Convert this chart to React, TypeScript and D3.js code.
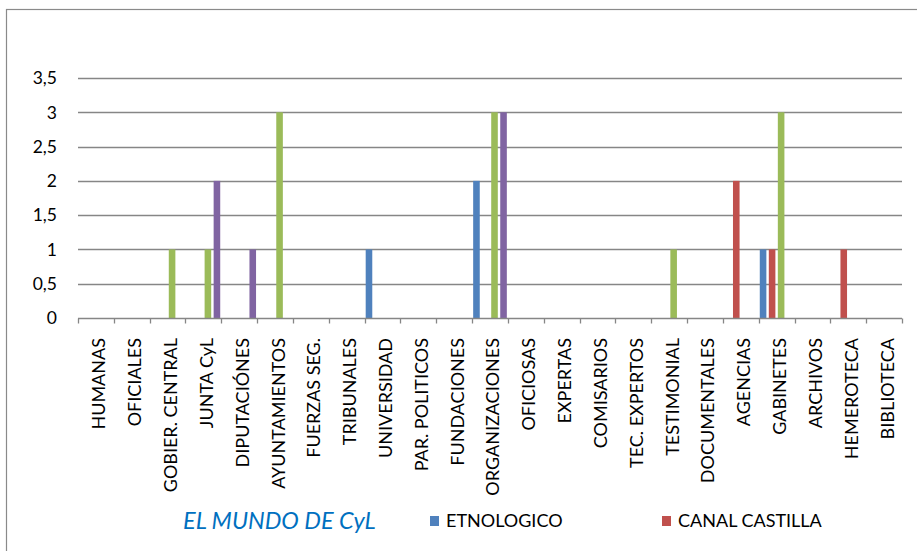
import { useEffect, useRef } from "react";
import * as d3 from "d3";

const categories = [
  "HUMANAS",
  "OFICIALES",
  "GOBIER. CENTRAL",
  "JUNTA CyL",
  "DIPUTACIÓNES",
  "AYUNTAMIENTOS",
  "FUERZAS SEG.",
  "TRIBUNALES",
  "UNIVERSIDAD",
  "PAR. POLITICOS",
  "FUNDACIONES",
  "ORGANIZACIONES",
  "OFICIOSAS",
  "EXPERTAS",
  "COMISARIOS",
  "TEC. EXPERTOS",
  "TESTIMONIAL",
  "DOCUMENTALES",
  "AGENCIAS",
  "GABINETES",
  "ARCHIVOS",
  "HEMEROTECA",
  "BIBLIOTECA",
];

const etnologico = [0, 0, 0, 0, 0, 0, 0, 0, 1, 0, 0, 2, 0, 0, 0, 0, 0, 0, 0, 1, 0, 0, 0];
const canalCastilla = [0, 0, 0, 0, 0, 0, 0, 0, 0, 0, 0, 0, 0, 0, 0, 0, 0, 0, 2, 1, 0, 1, 0];
const serie3 = [0, 0, 1, 1, 0, 3, 0, 0, 0, 0, 0, 3, 0, 0, 0, 0, 1, 0, 0, 3, 0, 0, 0];
const serie4 = [0, 0, 0, 2, 1, 0, 0, 0, 0, 0, 0, 3, 0, 0, 0, 0, 0, 0, 0, 0, 0, 0, 0];

const yTicks = [0, 0.5, 1, 1.5, 2, 2.5, 3, 3.5];

const seriesNames = ["ETNOLOGICO", "CANAL CASTILLA", "SERIE 3", "SERIE 4"];
const seriesValues = [etnologico, canalCastilla, serie3, serie4];
const seriesColors = ["#4F81BD", "#C0504D", "#9BBB59", "#8064A2"];

const W = 917;
const H = 551;
const FONT = "Lato, 'Open Sans', sans-serif";

const App = () => {
  const svgRef = useRef<SVGSVGElement | null>(null);

  useEffect(() => {
    const svg = d3.select(svgRef.current);
    svg.selectAll("*").remove();

    const margin = { left: 78, right: 15, top: 78, bottom: 233 };

    // chart frame (extends past the right and bottom edges)
    svg
      .append("rect")
      .attr("x", 6.5)
      .attr("y", 9.5)
      .attr("width", W + 20)
      .attr("height", H + 20)
      .attr("fill", "white")
      .attr("stroke", "#8a8a8a")
      .attr("stroke-width", 1.2);

    const x = d3
      .scaleBand()
      .domain(categories)
      .range([margin.left, W - margin.right])
      .padding(0);

    const xs = d3
      .scaleBand()
      .domain(seriesNames)
      .range([0, x.bandwidth()])
      .paddingInner(0.27)
      .paddingOuter(0.12);

    const y = d3
      .scaleLinear()
      .domain([0, 3.5])
      .range([H - margin.bottom, margin.top]);

    // gridlines
    svg
      .append("g")
      .selectAll("line")
      .data(yTicks.slice(1))
      .join("line")
      .attr("x1", margin.left)
      .attr("x2", W - margin.right)
      .attr("y1", (d) => Math.round(y(d)) + 0.5)
      .attr("y2", (d) => Math.round(y(d)) + 0.5)
      .attr("stroke", "#868686")
      .attr("stroke-width", 1.3);

    // y labels
    svg
      .append("g")
      .selectAll("text")
      .data(yTicks)
      .join("text")
      .attr("x", 57)
      .attr("y", (d) => y(d))
      .attr("dy", "0.36em")
      .attr("text-anchor", "end")
      .attr("font-family", FONT)
      .attr("font-size", 17.5)
      .attr("fill", "#000")
      .text((d) => String(d).replace(".", ","));

    // bars
    seriesValues.forEach((vals, si) => {
      svg
        .append("g")
        .selectAll("rect")
        .data(vals.map((v, i) => ({ c: categories[i], v })).filter((d) => d.v > 0))
        .join("rect")
        .attr("x", (d) => (x(d.c) ?? 0) + (xs(seriesNames[si]) ?? 0))
        .attr("width", xs.bandwidth())
        .attr("y", (d) => y(d.v))
        .attr("height", (d) => y(0) - y(d.v))
        .attr("fill", seriesColors[si]);
    });

    // x axis
    const y0 = Math.round(y(0)) + 0.5;
    svg
      .append("line")
      .attr("x1", margin.left)
      .attr("x2", W - margin.right)
      .attr("y1", y0)
      .attr("y2", y0)
      .attr("stroke", "#868686")
      .attr("stroke-width", 1.3);

    const bounds = categories.map((c) => x(c) ?? 0).concat([W - margin.right]);
    svg
      .append("g")
      .selectAll("line")
      .data(bounds)
      .join("line")
      .attr("x1", (d) => Math.round(d) + 0.5)
      .attr("x2", (d) => Math.round(d) + 0.5)
      .attr("y1", y0)
      .attr("y2", y0 + 5)
      .attr("stroke", "#868686")
      .attr("stroke-width", 1.3);

    // x labels
    svg
      .append("g")
      .selectAll("text")
      .data(categories)
      .join("text")
      .attr("transform", (d) => `translate(${(x(d) ?? 0) + x.bandwidth() / 2 + 3},338) rotate(-90)`)
      .attr("dy", "0.36em")
      .attr("text-anchor", "end")
      .attr("font-family", FONT)
      .attr("font-size", 18)
      .attr("fill", "#000")
      .text((d) => d);

    // legend
    const ly = 521;
    svg
      .append("text")
      .attr("x", 183)
      .attr("y", ly)
      .attr("dy", "0.36em")
      .attr("font-family", FONT)
      .attr("font-style", "italic")
      .attr("font-size", 23.5)
      .attr("fill", "#0070C0")
      .text("EL MUNDO DE CyL");

    const legendItems = [
      { name: seriesNames[0], color: seriesColors[0], x: 430 },
      { name: seriesNames[1], color: seriesColors[1], x: 662 },
    ];
    legendItems.forEach((it) => {
      svg
        .append("rect")
        .attr("x", it.x)
        .attr("y", ly - 5)
        .attr("width", 9)
        .attr("height", 10)
        .attr("fill", it.color);
      svg
        .append("text")
        .attr("x", it.x + 16)
        .attr("y", ly)
        .attr("dy", "0.36em")
        .attr("font-family", FONT)
        .attr("font-size", 18)
        .attr("fill", "#000")
        .text(it.name);
    });
  }, []);

  return (
    <div style={{ position: "absolute", left: 0, top: 0, width: W, height: H, overflow: "hidden", background: "white" }}>
      <svg ref={svgRef} width={W} height={H}></svg>
    </div>
  );
};

export default App;
